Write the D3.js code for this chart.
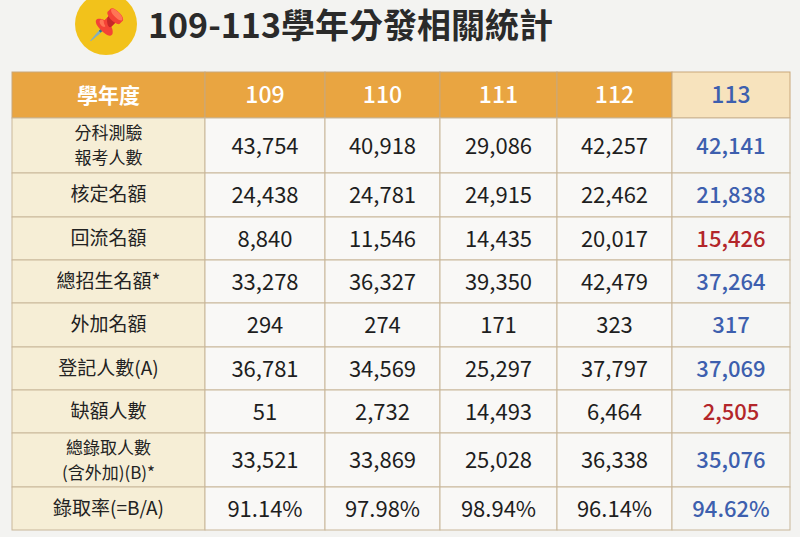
<!DOCTYPE html>
<html><head><meta charset="utf-8">
<script src="https://cdn.jsdelivr.net/npm/d3@7"></script>
<style>body{margin:0;background:#f4f4f2;}</style>
</head><body>
<svg id="c" width="800" height="537"></svg>
<script>
const years = ["109","110","111","112","113"];
const rowLabels = [["分科測驗","報考人數"],["核定名額"],["回流名額"],["總招生名額*"],["外加名額"],["登記人數(A)"],["缺額人數"],["總錄取人數","(含外加)(B)*"],["錄取率(=B/A)"]];
const v109 = ["43,754","24,438","8,840","33,278","294","36,781","51","33,521","91.14%"];
const v110 = ["40,918","24,781","11,546","36,327","274","34,569","2,732","33,869","97.98%"];
const v111 = ["29,086","24,915","14,435","39,350","171","25,297","14,493","25,028","98.94%"];
const v112 = ["42,257","22,462","20,017","42,479","323","37,797","6,464","36,338","96.14%"];
const v113 = ["42,141","21,838","15,426","37,264","317","37,069","2,505","35,076","94.62%"];
const redCells113 = [2,6];
const cols = [v109,v110,v111,v112,v113];

const svg = d3.select("#c");
svg.append("rect").attr("width",800).attr("height",537).attr("fill","#f3f3f1");
svg.append("circle").attr("cx",106).attr("cy",24).attr("r",31).attr("fill","#f2c21b");
svg.append("text").attr("x",106).attr("y",35).attr("text-anchor","middle").attr("font-size",30).text("📌");
svg.append("text").attr("x",148).attr("y",38).attr("font-family","Noto Sans CJK TC").attr("font-weight","bold").attr("font-size",34).attr("fill","#2a2a2a").text("109-113學年分發相關統計");

const colEdges = [12,205,325,440,557,672,790];
const rowH = [46,55,44,43,43,44,43,43,54,43];
const rowEdges = [72]; rowH.forEach(h=>rowEdges.push(rowEdges[rowEdges.length-1]+h));
const cx = i=>colEdges[i], cw=i=>colEdges[i+1]-colEdges[i];
const ry = i=>rowEdges[i], rh=i=>rowEdges[i+1]-rowEdges[i];
const F = "Noto Sans CJK TC";
const g = svg.append("g");
for(let c=0;c<6;c++){
  g.append("rect").attr("x",cx(c)).attr("y",ry(0)).attr("width",cw(c)).attr("height",rh(0))
   .attr("fill",c===5?"#f7e3bd":"#e9a541").attr("stroke","#c9a77a");
  g.append("text").attr("x",cx(c)+cw(c)/2).attr("y",ry(0)+rh(0)/2+8).attr("text-anchor","middle")
   .attr("font-family",F).attr("font-size",c===0?21:23).attr("font-weight",c===0?"bold":"500")
   .attr("fill",c===5?"#3d5fae":"#fff").text(c===0?"學年度":years[c-1]);
}
rowLabels.forEach((lab,r)=>{
  const y0=ry(r+1),h=rh(r+1);
  const fs = lab.length>1?17:19;
  g.append("rect").attr("x",cx(0)).attr("y",y0).attr("width",cw(0)).attr("height",h).attr("fill","#f6eed6").attr("stroke","#c9b79a");
  lab.forEach((t,k)=>g.append("text").attr("x",cx(0)+cw(0)/2).attr("y",y0+h/2+6+(k-(lab.length-1)/2)*25)
    .attr("text-anchor","middle").attr("font-family",F).attr("font-size",fs).attr("fill","#222").text(t));
  cols.forEach((vals,c)=>{
    g.append("rect").attr("x",cx(c+1)).attr("y",y0).attr("width",cw(c+1)).attr("height",h)
     .attr("fill",c===4?"#f6f6f4":"#f9f8f6").attr("stroke","#c9b79a");
    g.append("text").attr("x",cx(c+1)+cw(c+1)/2).attr("y",y0+h/2+8).attr("text-anchor","middle")
     .attr("font-family",F).attr("font-size",22).attr("font-weight",c===4?"500":"normal")
     .attr("fill",c===4?(redCells113.includes(r)?"#b3262a":"#3d5fae"):"#1e1e1e").text(vals[r]);
  });
});
</script></body></html>
